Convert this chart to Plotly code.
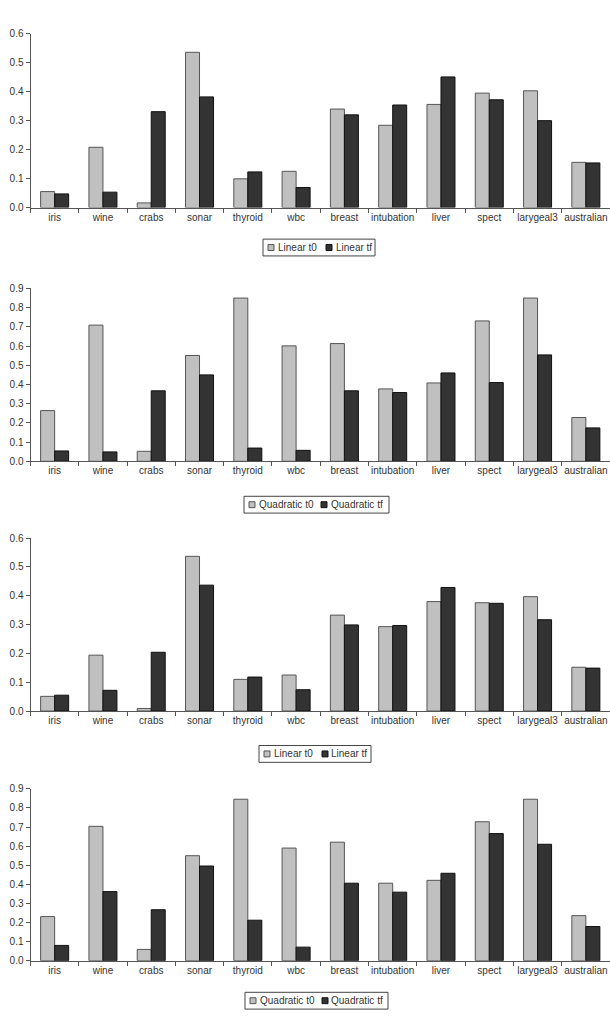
import plotly.graph_objects as go

categories = ["iris", "wine", "crabs", "sonar", "thyroid", "wbc", "breast",
              "intubation", "liver", "spect", "larygeal3", "australian"]

lin1_t0 = [0.055, 0.208, 0.016, 0.536, 0.099, 0.125, 0.340, 0.284, 0.356, 0.395, 0.403, 0.156]
lin1_tf = [0.047, 0.053, 0.331, 0.382, 0.123, 0.069, 0.320, 0.354, 0.451, 0.372, 0.300, 0.154]

quad1_t0 = [0.264, 0.709, 0.052, 0.551, 0.850, 0.601, 0.613, 0.377, 0.408, 0.731, 0.850, 0.228]
quad1_tf = [0.054, 0.049, 0.367, 0.450, 0.069, 0.057, 0.367, 0.358, 0.460, 0.410, 0.554, 0.174]

lin2_t0 = [0.051, 0.194, 0.009, 0.537, 0.110, 0.125, 0.333, 0.293, 0.380, 0.376, 0.397, 0.152]
lin2_tf = [0.055, 0.072, 0.204, 0.437, 0.118, 0.074, 0.299, 0.297, 0.429, 0.374, 0.317, 0.149]

quad2_t0 = [0.231, 0.704, 0.059, 0.550, 0.846, 0.590, 0.621, 0.406, 0.421, 0.728, 0.846, 0.236]
quad2_tf = [0.080, 0.362, 0.267, 0.496, 0.212, 0.071, 0.406, 0.359, 0.458, 0.666, 0.610, 0.179]

y_ticks_06 = [0.0, 0.1, 0.2, 0.3, 0.4, 0.5, 0.6]
y_ticks_09 = [0.0, 0.1, 0.2, 0.3, 0.4, 0.5, 0.6, 0.7, 0.8, 0.9]

W, H = 610, 1024
C_T0 = "#c0c0c0"
C_TF = "#333333"
L_T0 = "#555555"
L_TF = "#111111"
FONT = "Liberation Sans, Arial, sans-serif"
TXT = "#333333"

panels = [
    # t0, tf, name t0, name tf, ymax, ticks, top_px, bottom_px, legend left px, legend centre y px, box width, 2nd item offset
    (lin1_t0, lin1_tf, "Linear t0", "Linear tf", 0.6, y_ticks_06, 28.1, 203.9, 263, 244.4, 112, 63),
    (quad1_t0, quad1_tf, "Quadratic t0", "Quadratic tf", 0.9, y_ticks_09, 285.8, 460.7, 244, 504.6, 145, 77),
    (lin2_t0, lin2_tf, "Linear t0", "Linear tf", 0.6, y_ticks_06, 538.5, 713.4, 259, 756.8, 112, 63),
    (quad2_t0, quad2_tf, "Quadratic t0", "Quadratic tf", 0.9, y_ticks_09, 792.2, 966.0, 245, 1006.5, 143, 77),
]

def px_x(v):
    return v / W

def px_y(v):
    return 1 - v / H

fig = go.Figure()
layout = dict(
    width=W, height=H,
    margin=dict(l=0, r=0, t=0, b=0),
    paper_bgcolor="white", plot_bgcolor="white",
    font=dict(family=FONT, size=10, color=TXT),
    barmode="group", bargap=0.42, bargroupgap=0.0,
    showlegend=False,
)
shapes = []
annotations = []

for i, (t0, tf, n0, nf, ymax, ticks, top, bot, lx, ly, bw, off2) in enumerate(panels):
    k = i + 1
    xa = "x" if k == 1 else f"x{k}"
    ya = "y" if k == 1 else f"y{k}"
    fig.add_trace(go.Bar(x=categories, y=t0, name=n0, xaxis=xa, yaxis=ya,
                         marker=dict(color=C_T0, line=dict(color=L_T0, width=1))))
    fig.add_trace(go.Bar(x=categories, y=tf, name=nf, xaxis=xa, yaxis=ya,
                         marker=dict(color=C_TF, line=dict(color=L_TF, width=1))))
    xkey = "xaxis" if k == 1 else f"xaxis{k}"
    ykey = "yaxis" if k == 1 else f"yaxis{k}"
    layout[xkey] = dict(
        domain=[30.5 / W, 1.0], anchor=ya, type="category",
        showline=True, linecolor="#555555", linewidth=1,
        ticks="outside", ticklen=4, tickcolor="#555555", tickson="boundaries",
        tickangle=0, showgrid=False, zeroline=False, fixedrange=True,
        tickfont=dict(family=FONT, size=10, color=TXT),
    )
    layout[ykey] = dict(
        domain=[px_y(bot), px_y(top)], anchor=xa, range=[0, ymax],
        tickvals=ticks, ticktext=[f"{v:.1f}" for v in ticks],
        showline=True, linecolor="#555555", linewidth=1,
        ticks="outside", ticklen=4, tickcolor="#555555",
        showgrid=False, zeroline=False, fixedrange=True,
        tickfont=dict(family=FONT, size=10, color=TXT),
    )
    # legend frame with swatches and item text
    shapes.append(dict(type="rect", xref="paper", yref="paper",
                       x0=px_x(lx), x1=px_x(lx + bw), y0=px_y(ly + 8.5), y1=px_y(ly - 8.5),
                       line=dict(color="#444444", width=1), fillcolor="white", layer="above"))
    for (name, fill, edge, off) in [(n0, C_T0, L_T0, 5), (nf, C_TF, L_TF, off2)]:
        shapes.append(dict(type="rect", xref="paper", yref="paper",
                           x0=px_x(lx + off), x1=px_x(lx + off + 6), y0=px_y(ly + 3), y1=px_y(ly - 3),
                           line=dict(color=edge, width=1), fillcolor=fill, layer="above"))
        annotations.append(dict(text=name, xref="paper", yref="paper",
                                x=px_x(lx + off + 7.5), y=px_y(ly), xanchor="left", yanchor="middle",
                                showarrow=False, font=dict(family=FONT, size=10, color=TXT)))

layout["shapes"] = shapes
layout["annotations"] = annotations
fig.update_layout(**layout)
fig.write_html("out.html")
